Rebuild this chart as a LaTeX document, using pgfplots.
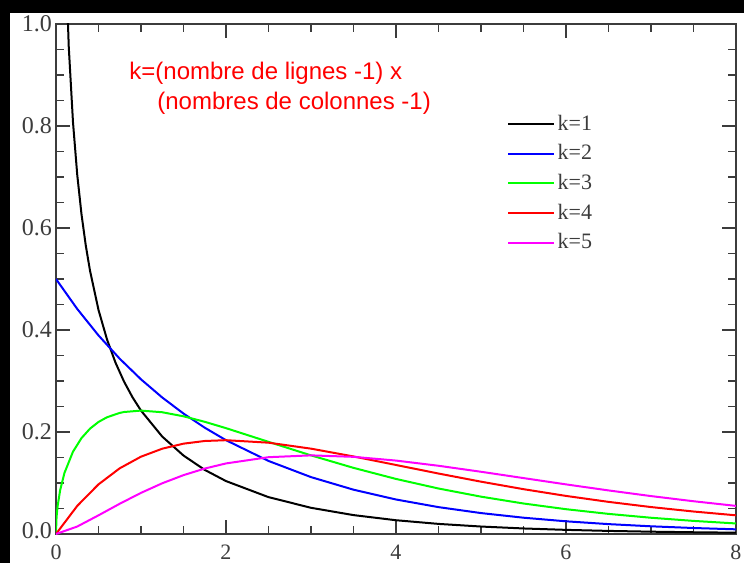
\documentclass[border=0pt]{standalone}
\usepackage{fontspec}
\setmainfont{Liberation Serif}
\newfontfamily\arialfont{Liberation Sans}
\usepackage{pgfplots}
\pgfplotsset{compat=1.18}
\definecolor{kone}{RGB}{0,0,0}
\definecolor{ktwo}{RGB}{0,0,255}
\definecolor{kthree}{RGB}{0,255,0}
\definecolor{kfour}{RGB}{255,0,0}
\definecolor{kfive}{RGB}{255,0,255}
\definecolor{axisgray}{RGB}{60,60,60}

\begin{document}
\begin{tikzpicture}
\useasboundingbox (0,0) rectangle (372pt,281.5pt);
\fill[black] (0,0) rectangle (372pt,281.5pt);
\fill[white] (5pt,0) rectangle (372pt,275pt);
\clip (0,0) rectangle (372pt,281.5pt);
\begin{axis}[
  at={(28pt,14.5pt)}, anchor=south west,
  width=340pt, height=255pt, scale only axis,
  xmin=0, xmax=8, ymin=0, ymax=1,
  xtick={0,2,4,6,8}, xticklabels={0,2,4,6,8},
  ytick={0,0.2,0.4,0.6,0.8,1.0},
  yticklabels={\raisebox{3.5pt}{0.0},0.2,0.4,0.6,0.8,\raisebox{-4pt}{1.0}},
  minor x tick num=3, minor y tick num=3,
  tick align=inside,
  major tick length=7pt, minor tick length=4pt,
  axis line style={draw=axisgray, line width=1.2pt},
  tick style={draw=axisgray, line width=0.8pt},
  ticklabel style={font=\fontsize{12}{14}\selectfont, text=axisgray},
  yticklabel style={xshift=1.5pt},
  xticklabel style={font=\fontsize{11}{13}\selectfont, yshift=-2pt},
  legend style={draw=none, fill=none, at={(0.654,0.832)}, anchor=north west,
    font=\fontsize{11}{13}\selectfont, text=axisgray, row sep=4.85pt,
    nodes={inner xsep=1.25pt, inner ysep=0pt, text height=8pt, text depth=2pt},
    cells={anchor=west}},
  legend image code/.code={\draw[#1] (0pt,0pt) -- (23pt,0pt);},
  every axis plot/.append style={line width=1pt},
]
\addplot[kone] coordinates {
  (0.1,1.2000) (0.15,0.95563) (0.2,0.80717) (0.25,0.70413) (0.3,0.62691)
  (0.35,0.56608) (0.4,0.51644) (0.5,0.43939) (0.6,0.38155) (0.7,0.33602)
  (0.8,0.29898) (0.9,0.26814) (1.0,0.24197) (1.25,0.19099) (1.5,0.15387)
  (1.75,0.12571) (2.0,0.10378) (2.5,0.07229) (3.0,0.05139) (3.5,0.03706)
  (4.0,0.02700) (4.5,0.01982) (5.0,0.01464) (5.5,0.01087) (6.0,0.00811)
  (6.5,0.00607) (7.0,0.00455) (7.5,0.00343) (8.0,0.00258)
};
\addlegendentry{k=1}
\addplot[ktwo] coordinates {
  (0,0.5) (0.25,0.44125) (0.5,0.38940) (0.75,0.34364) (1.0,0.30327)
  (1.25,0.26763) (1.5,0.23618) (1.75,0.20843) (2.0,0.18394) (2.5,0.14325)
  (3.0,0.11157) (3.5,0.08689) (4.0,0.06767) (4.5,0.05270) (5.0,0.04104)
  (5.5,0.03196) (6.0,0.02489) (6.5,0.01939) (7.0,0.01510) (7.5,0.01176)
  (8.0,0.00916)
};
\addlegendentry{k=2}
\addplot[kthree] coordinates {
  (0,0) (0.005,0.02814) (0.01,0.03970) (0.02,0.05586) (0.05,0.08700)
  (0.1,0.12000) (0.2,0.16143) (0.3,0.18807) (0.4,0.20658) (0.5,0.21970)
  (0.6,0.22893) (0.75,0.23745) (0.8,0.23919) (1.0,0.24197) (1.25,0.23874)
  (1.5,0.23080) (1.75,0.22000) (2.0,0.20755) (2.5,0.18072) (3.0,0.15418)
  (3.5,0.12970) (4.0,0.10798) (4.5,0.08920) (5.0,0.07323) (5.5,0.05981)
  (6.0,0.04865) (6.5,0.03944) (7.0,0.03187) (7.5,0.02569) (8.0,0.02067)
};
\addlegendentry{k=3}
\addplot[kfour] coordinates {
  (0,0) (0.25,0.05516) (0.5,0.09735) (0.75,0.12887) (1.0,0.15163)
  (1.25,0.16727) (1.5,0.17714) (1.75,0.18238) (2.0,0.18394) (2.5,0.17907)
  (3.0,0.16735) (3.5,0.15205) (4.0,0.13534) (4.5,0.11857) (5.0,0.10261)
  (5.5,0.08790) (6.0,0.07468) (6.5,0.06301) (7.0,0.05284) (7.5,0.04410)
  (8.0,0.03663)
};
\addlegendentry{k=4}
\addplot[kfive] coordinates {
  (0,0) (0.25,0.01467) (0.5,0.03662) (0.75,0.05936) (1.0,0.08066)
  (1.25,0.09948) (1.5,0.11540) (1.75,0.12833) (2.0,0.13837) (2.5,0.15060)
  (3.0,0.15418) (3.5,0.15131) (4.0,0.14398) (4.5,0.13380) (5.0,0.12204)
  (5.5,0.10965) (6.0,0.09730) (6.5,0.08545) (7.0,0.07437) (7.5,0.06424)
  (8.0,0.05511)
};
\addlegendentry{k=5}
\end{axis}
\node[anchor=base west, inner sep=0pt, text=red, font=\arialfont\fontsize{12}{14}\selectfont]
  at (64.5pt,241.75pt) {k=(nombre de lignes -1) x};
\node[anchor=base west, inner sep=0pt, text=red, font=\arialfont\fontsize{12}{14}\selectfont]
  at (78.5pt,226.5pt) {(nombres de colonnes -1)};
\end{tikzpicture}
\end{document}
